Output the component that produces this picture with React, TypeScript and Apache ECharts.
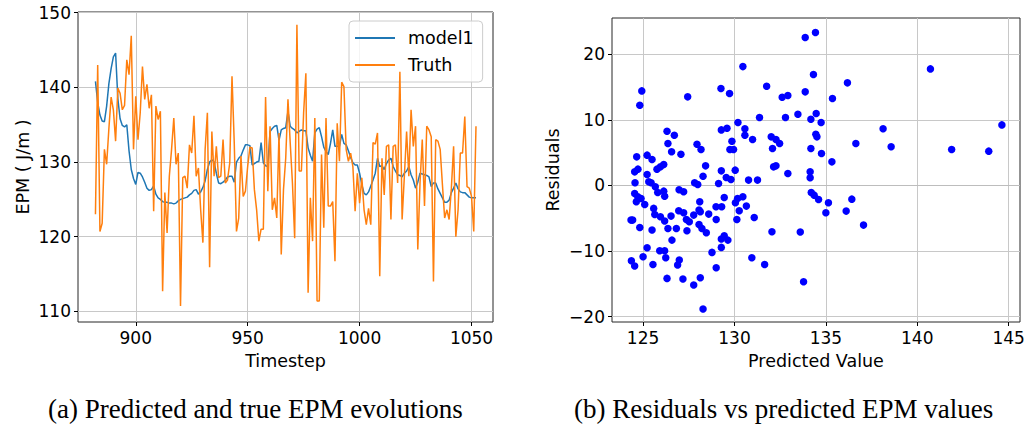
import React, { useEffect, useRef } from "react";
import * as echarts from "echarts";

// ---------- data ----------
const START_STEP = 882;

const model1Values = [
  140.8, 138.0, 136.3, 135.5, 135.4, 137.5, 140.5, 142.5, 144.1, 144.6,
  138.5, 135.8, 134.9, 134.7, 135.0, 131.5, 129.0, 127.8, 127.0, 128.6,
  128.5, 128.0, 127.3, 126.5, 126.2, 126.3, 126.8, 125.7, 125.2, 125.0,
  124.7, 124.6, 124.6, 124.5, 124.5, 124.4, 124.5, 124.8, 125.0, 125.1,
  125.2, 125.3, 125.6, 125.8, 126.2, 126.3, 125.7, 126.0, 126.6, 127.5,
  129.0, 130.0, 130.3, 130.0, 128.5, 127.2, 127.1, 127.3, 127.6, 128.0,
  128.1, 128.1, 127.3, 130.0, 130.5, 130.8, 131.6, 132.3, 132.3, 132.2,
  129.6, 129.8, 130.0, 130.1, 132.6, 129.9, 129.5, 129.4, 134.1, 134.5,
  134.8, 134.9, 132.9, 134.3, 134.5, 134.6, 136.8, 134.8, 134.5, 134.3,
  133.9, 134.1, 134.3, 134.2, 134.2, 131.9, 130.9, 130.1, 133.9, 134.4,
  134.6, 133.4, 132.0, 131.4, 131.0, 132.5, 134.3, 132.1, 132.1, 132.1,
  133.7, 132.5, 132.3, 131.5, 130.6, 129.9, 129.6, 129.6, 128.5, 127.0,
  125.8, 125.6, 126.0, 126.8, 127.6, 128.5, 130.5, 129.4, 129.5, 129.0,
  129.8, 130.3, 130.5, 129.4, 128.8, 128.3, 128.2, 128.0, 128.5, 128.8,
  129.4, 128.3, 127.6, 126.5, 127.3, 128.5, 128.4, 128.3, 128.2, 128.0,
  126.7, 127.2, 127.2, 126.4, 125.8, 125.2, 124.6, 124.6, 124.9, 125.9,
  126.5, 127.2, 126.4, 126.0, 125.9, 125.9, 125.6, 125.3, 125.2, 125.2,
  125.2,
];

const truthValues = [
  123.0, 143.0, 120.7, 121.8, 131.7, 129.7, 134.5, 138.7, 137.0, 132.8,
  139.9, 139.2, 137.0, 137.6, 143.7, 141.7, 146.9, 131.7, 138.8, 133.0,
  136.6, 142.8, 138.4, 140.4, 137.2, 139.0, 123.4, 137.5, 135.7, 136.8,
  112.7, 125.9, 120.5, 128.1, 131.7, 135.9, 129.7, 131.2, 110.7, 127.9,
  128.1, 126.5, 132.3, 131.2, 136.2, 128.1, 129.2, 123.6, 119.2, 131.7,
  136.6, 115.9, 134.1, 128.1, 132.1, 127.9, 128.1, 133.0, 127.2, 127.6,
  129.9, 141.5, 132.6, 120.7, 122.5, 130.8, 125.4, 126.1, 129.4, 132.0,
  131.9, 126.3, 123.6, 119.4, 121.0, 121.0, 138.7, 126.1, 134.8, 123.6,
  125.2, 122.5, 133.9, 117.6, 126.3, 130.5, 138.4, 132.6, 127.2, 119.8,
  148.4, 128.8, 128.8, 136.6, 141.9, 112.5, 125.2, 119.4, 135.9, 111.4,
  111.4, 131.0, 121.2, 135.9, 124.1, 124.1, 124.7, 116.7, 135.2, 130.1,
  140.7, 140.1, 131.7, 130.1, 131.2, 129.4, 123.4, 128.5, 124.5, 127.9,
  123.6, 121.6, 123.8, 121.6, 132.6, 132.4, 133.9, 114.7, 130.5, 125.6,
  132.1, 132.3, 122.3, 132.1, 132.3, 127.2, 142.1, 122.3, 128.1, 134.1,
  128.1, 137.0, 132.1, 134.8, 118.3, 127.2, 133.0, 124.1, 134.8, 134.3,
  133.4, 114.0, 133.0, 132.8, 131.7, 127.0, 122.5, 123.6, 122.3, 126.5,
  132.1, 120.0, 123.6, 131.2, 131.2, 136.1, 126.7, 126.5, 125.4, 120.7,
  134.8,
];

const timesteps = model1Values.map((_, i) => START_STEP + i);

const predictedValues = [
  133.87, 134.43, 130.46, 124.93, 124.82, 127.44, 129.26, 129.73, 131.76, 134.32,
  132.61, 132.92, 133.87, 131.37, 132.79, 133.47, 134.18, 134.47, 130.19, 129.28,
  129.59, 130.57, 130.57, 130.99, 134.45, 134.51, 132.01, 132.27, 132.47, 132.08,
  134.18, 134.76, 129.86, 129.75, 129.95, 126.31, 126.71, 126.36, 126.56, 127.07,
  127.95, 128.17, 124.65, 125.22, 125.49, 126.13, 125.95, 125.76, 124.72, 124.54,
  125.22, 128.42, 128.28, 129.28, 130.04, 132.14, 132.27, 132.92, 134.14, 134.14,
  136.18, 135.36, 140.72, 134.74, 138.13, 144.63, 136.64, 138.57, 141.88, 143.91,
  135.33,
  134.2, 134.36, 134.6, 135.14, 135.0, 136.42, 136.11, 137.06, 133.6, 133.78,
  124.56, 125.31, 125.44, 125.67, 125.8, 126.13, 126.18, 124.54, 124.71, 124.63,
  124.89, 125.09, 125.58, 125.64, 125.95, 126.18, 126.36, 124.34, 124.43, 124.82,
  125.49, 126.53, 126.58, 125.22, 125.0, 124.36, 124.54, 125.54, 125.91, 126.18,
  126.24, 126.31, 126.82, 126.97, 127.22, 126.95, 127.22, 126.98, 126.89, 127.18,
  127.4, 127.37, 127.53, 127.77, 127.82, 127.99, 128.1, 128.06, 128.13, 128.06,
  128.22, 128.46, 128.13, 127.77, 128.28, 128.59, 128.77, 128.99, 129.13, 129.0,
  129.0, 129.3, 129.44, 129.28, 129.44, 129.64, 129.28, 130.05, 130.13, 130.26,
  130.17, 130.46, 130.65, 131.08, 130.95, 131.65, 130.77, 131.26, 132.05, 129.55,
  129.81,
];

const residualValues = [
  22.52, 23.28, 18.1, 14.4, 12.22, 13.49, 14.76, 14.0, 15.11, 16.89,
  13.44, 13.69, 14.25, 10.34, 10.34, 10.85, 10.09, 10.95, 9.58, 8.46,
  8.72, 8.62, 7.65, 6.99, 7.8, 7.4, 7.4, 6.99, 6.38, 5.62,
  5.62, 4.86, 6.74, 5.47, 5.47, 8.26, 7.65, 6.38, 5.12, 4.76,
  6.28, 5.47, 4.35, 4.61, 3.95, 3.19, 2.83, 2.48, 2.48, 2.07,
  1.67, 2.98, 1.41, 2.22, 2.33, 2.83, 2.98, 1.82, 2.07, 1.16,
  15.62, 13.23, 17.75, 9.58, 8.62, 9.22, 6.38, 5.88, 5.47, 5.22,
  3.59,
  -1.07, -1.48, -2.14, -2.64, -4.17, -2.09, -3.91, -6.04, -7.1, -14.67,
  0.4, 0.55, 0.4, -0.21, -1.07, -0.87, -1.63, -1.22, -1.73, -2.49,
  -1.98, -2.9, -3.5, -4.42, -4.77, -5.43, -6.55, -5.28, -5.28, -6.4,
  -6.8, -4.67, -8.33, -9.49, -10.86, -11.47, -12.28, -12.03, -9.95, -9.95,
  -11.02, -14.16, -6.55, -0.67, -0.97, -3.86, -4.17, -11.37, -12.13, -14.26,
  -6.9, -5.18, -5.54, -4.52, 0.4, 0.15, -2.49, -3.76, -4.01, -5.94,
  -6.55, -7.21, -14.06, -15.17, -18.83, -4.37, -10.2, -3.25, 0.3, -5.18,
  -12.54, -3.25, -1.83, -8.17, -7.67, -8.33, -9.44, -2.64, -5.18, -3.86,
  -1.98, -1.73, -3.15, -4.88, -11.02, -12.03, 0.81, 0.81, -7.06, 1.21,
  0.91,
];

const leftXTicks = [900, 950, 1000, 1050];
const leftYTicks = [110, 120, 130, 140, 150];
const rightXTicks = [125, 130, 135, 140, 145];
const rightYTicks = [-20, -10, 0, 10, 20];

const captionA = "(a) Predicted and true EPM evolutions";
const captionB = "(b) Residuals vs predicted EPM values";

// axis extents
const LEFT_X_RANGE = [874.2, 1059.6];
const LEFT_Y_RANGE = [108.57, 150.1];
const RIGHT_X_RANGE = [123.3, 145.62];
const RIGHT_Y_RANGE = [-20.8, 25.5];

// ---------- styles ----------
const FONT = "DejaVu Sans";
const TICK_FONT = 17;
const NAME_FONT = 17.5;
const GRID_COLOR = "#c8c8c8";

function valueAxis(
  gridIndex: number,
  range: number[],
  ticks: number[],
  name: string,
  nameGap: number
) {
  return {
    type: "value",
    gridIndex,
    min: range[0],
    max: range[1],
    name,
    nameLocation: "middle",
    nameGap,
    nameTextStyle: { fontFamily: FONT, fontSize: NAME_FONT, color: "#000" },
    axisLine: { show: false, onZero: false },
    axisTick: {
      show: true,
      inside: false,
      length: 4,
      customValues: ticks,
      lineStyle: { color: "#000", width: 1 },
    },
    axisLabel: {
      customValues: ticks,
      color: "#000",
      fontFamily: FONT,
      fontSize: TICK_FONT,
      margin: 7,
      formatter: (v: number) => String(v).replace("-", "\u2212"),
    },
    splitLine: {
      show: true,
      lineStyle: { color: GRID_COLOR, width: 1 },
    },
  };
}

export default function App() {
  const ref = useRef<HTMLDivElement>(null);

  useEffect(() => {
    if (!ref.current) return;
    const chart = echarts.init(ref.current, undefined, { renderer: "svg" });

    const model1Data = timesteps.map((t, i) => [t, model1Values[i]]);
    const truthData = timesteps.map((t, i) => [t, truthValues[i]]);
    const scatterData = predictedValues.map((p, i) => [p, residualValues[i]]);
    // gridline at residual 0 (tick value), spanning the axis extent
    const zeroLineData = RIGHT_X_RANGE.map((x) => [x, rightYTicks[2]]);

    chart.setOption({
      animation: false,
      backgroundColor: "#ffffff",
      grid: [
        {
          left: 78,
          top: 12,
          width: 415,
          height: 310,
          show: true,
          borderColor: "#262626",
          borderWidth: 1,
          backgroundColor: "transparent",
        },
        {
          left: 612,
          top: 18,
          width: 408,
          height: 304,
          show: true,
          borderColor: "#262626",
          borderWidth: 1,
          backgroundColor: "transparent",
        },
      ],
      xAxis: [
        valueAxis(0, LEFT_X_RANGE, leftXTicks, "Timestep", 30),
        valueAxis(1, RIGHT_X_RANGE, rightXTicks, "Predicted Value", 30),
      ],
      yAxis: [
        valueAxis(0, LEFT_Y_RANGE, leftYTicks, "EPM ( J/m )", 46),
        valueAxis(1, RIGHT_Y_RANGE, rightYTicks, "Residuals", 50),
      ],
      legend: {
        data: ["model1", "Truth"],
        orient: "vertical",
        left: 349,
        top: 21,
        icon: "rect",
        itemWidth: 40,
        itemHeight: 2,
        itemGap: 9,
        backgroundColor: "rgba(255,255,255,0.8)",
        borderColor: "#cccccc",
        borderWidth: 1,
        borderRadius: 4,
        padding: [8, 9, 8, 6],
        textStyle: {
          fontFamily: FONT,
          fontSize: NAME_FONT,
          color: "#000",
          padding: [0, 0, 0, 8],
        },
      },
      graphic: [
        {
          type: "text",
          left: 48,
          top: 395,
          style: {
            text: captionA,
            font: "27px 'Liberation Serif'",
            fill: "#000",
          },
        },
        {
          type: "text",
          left: 574,
          top: 395,
          style: {
            text: captionB,
            font: "27px 'Liberation Serif'",
            fill: "#000",
          },
        },
      ],
      series: [
        {
          name: "zeroGrid",
          type: "line",
          xAxisIndex: 1,
          yAxisIndex: 1,
          data: zeroLineData,
          showSymbol: false,
          symbol: "none",
          silent: true,
          clip: false,
          color: "#bdbdbd",
          lineStyle: { color: "#bdbdbd", width: 1.1 },
          z: 1,
        },
        {
          name: "model1",
          type: "line",
          xAxisIndex: 0,
          yAxisIndex: 0,
          data: model1Data,
          showSymbol: false,
          symbol: "none",
          color: "#1f77b4",
          lineStyle: { color: "#1f77b4", width: 1.5 },
          z: 3,
        },
        {
          name: "Truth",
          type: "line",
          xAxisIndex: 0,
          yAxisIndex: 0,
          data: truthData,
          showSymbol: false,
          symbol: "none",
          color: "#ff7f0e",
          lineStyle: { color: "#ff7f0e", width: 1.5 },
          z: 4,
        },
        {
          name: "Residuals",
          type: "scatter",
          xAxisIndex: 1,
          yAxisIndex: 1,
          data: scatterData,
          symbol: "circle",
          symbolSize: 7.5,
          itemStyle: { color: "#0000ff", opacity: 1 },
          z: 3,
        },
      ],
    });

    return () => {
      chart.dispose();
    };
  }, []);

  return (
    <div
      ref={ref}
      style={{
        position: "fixed",
        left: 0,
        top: 0,
        width: 1029,
        height: 427,
        background: "#fff",
      }}
    />
  );
}
